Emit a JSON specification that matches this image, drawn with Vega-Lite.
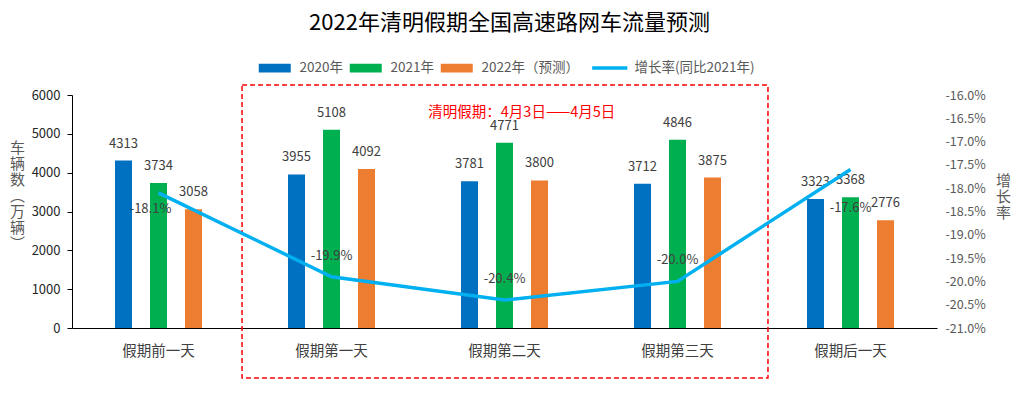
{
  "$schema": "https://vega.github.io/schema/vega-lite/v6.json",
  "width": 865,
  "height": 233,
  "autosize": "none",
  "padding": {"left": 72, "top": 95, "right": 83, "bottom": 74},
  "title": {"text": "2022年清明假期全国高速路网车流量预测", "fontSize": 22, "fontWeight": "normal", "color": "#000000", "font": "Noto Sans CJK SC", "anchor": "middle", "dx": 5, "dy": -22},
  "config": {"view": {"stroke": null}, "font": "Noto Sans CJK SC", "axis": {"labelOverlap": false}},
  "datasets": {
    "bars": [
      {"cat": "假期前一天", "series": "2020年", "value": 4313},
      {"cat": "假期前一天", "series": "2021年", "value": 3734},
      {"cat": "假期前一天", "series": "2022年（预测）", "value": 3058},
      {"cat": "假期第一天", "series": "2020年", "value": 3955},
      {"cat": "假期第一天", "series": "2021年", "value": 5108},
      {"cat": "假期第一天", "series": "2022年（预测）", "value": 4092},
      {"cat": "假期第二天", "series": "2020年", "value": 3781},
      {"cat": "假期第二天", "series": "2021年", "value": 4771},
      {"cat": "假期第二天", "series": "2022年（预测）", "value": 3800},
      {"cat": "假期第三天", "series": "2020年", "value": 3712},
      {"cat": "假期第三天", "series": "2021年", "value": 4846},
      {"cat": "假期第三天", "series": "2022年（预测）", "value": 3875},
      {"cat": "假期后一天", "series": "2020年", "value": 3323},
      {"cat": "假期后一天", "series": "2021年", "value": 3368},
      {"cat": "假期后一天", "series": "2022年（预测）", "value": 2776}
    ],
    "rates": [
      {"cat": "假期前一天", "rate": -18.1},
      {"cat": "假期第一天", "rate": -19.9},
      {"cat": "假期第二天", "rate": -20.4},
      {"cat": "假期第三天", "rate": -20.0},
      {"cat": "假期后一天", "rate": -17.6}
    ],
    "box": [{"x1": "假期第一天", "x2": "假期第三天", "top": 6258, "bottom": -1288}],
    "note": [{"cat": "假期第二天", "y": 5536, "label": "清明假期：4月3日——4月5日"}]
  },
  "layer": [
    {
      "layer": [
        {
          "data": {"name": "bars"},
          "mark": {"type": "bar"},
          "encoding": {
            "x": {
              "field": "cat", "type": "nominal", "title": null,
              "sort": ["假期前一天", "假期第一天", "假期第二天", "假期第三天", "假期后一天"],
              "scale": {"domain": ["假期前一天", "假期第一天", "假期第二天", "假期第三天", "假期后一天"], "paddingInner": 0, "paddingOuter": 0},
              "axis": {"labelAngle": 0, "labelAlign": "center", "bandPosition": 0.5, "ticks": false, "domainColor": "#000000", "labelFontSize": 14.5, "labelColor": "#404040", "labelPadding": 16, "labelFont": "Noto Sans CJK SC"}
            },
            "xOffset": {
              "field": "series", "type": "nominal",
              "sort": ["2020年", "2021年", "2022年（预测）"],
              "scale": {"domain": ["2020年", "2021年", "2022年（预测）"], "range": [25.5, 147.5], "paddingInner": 0.514, "paddingOuter": 0.5}
            },
            "y": {
              "field": "value", "type": "quantitative",
              "scale": {"domain": [0, 6000], "nice": false},
              "axis": {
                "values": [0, 1000, 2000, 3000, 4000, 5000, 6000], "tickCount": 7, "format": "d", "labelOverlap": false,
                "grid": false, "domain": true, "domainColor": "#000000", "ticks": true, "tickSize": 5, "tickColor": "#000000",
                "labelFontSize": 13, "labelColor": "#262626", "labelPadding": 7,
                "title": ["车", "辆", "数", "︵", "万", "辆", "︶"],
                "titleAngle": 0, "titleX": -55, "titleY": 52, "titleAlign": "center", "titleBaseline": "middle",
                "titleFontSize": 15, "titleLineHeight": 16, "titleFontWeight": "normal", "titleColor": "#595959"
              }
            },
            "color": {
              "field": "series", "type": "nominal",
              "scale": {"domain": ["2020年", "2021年", "2022年（预测）", "增长率(同比2021年)"], "range": ["#0070C0", "#00B050", "#ED7D31", "#00B0F0"]},
              "legend": {
                "orient": "none", "legendX": 196, "legendY": -34, "direction": "horizontal", "title": null,
                "symbolSize": 1024, "labelFontSize": 13.5, "labelColor": "#595959", "labelOffset": 18, "columnPadding": 6, "padding": 0,
                "encode": {
                  "symbols": {
                    "update": {
                      "shape": {"signal": "datum.value === '增长率(同比2021年)' ? 'M-1.1,0H1.1' : 'M-1,-0.28H1V0.28H-1Z'"},
                      "fill": {"signal": "datum.value === '增长率(同比2021年)' ? 'transparent' : scale('color', datum.value)"},
                      "stroke": {"signal": "scale('color', datum.value)"},
                      "strokeWidth": {"signal": "datum.value === '增长率(同比2021年)' ? 3.5 : 0"},
                      "opacity": {"value": 1},
                      "fillOpacity": {"value": 1},
                      "strokeOpacity": {"value": 1}
                    }
                  }
                }
              }
            }
          }
        },
        {
          "data": {"name": "box"},
          "mark": {"type": "rect", "filled": false, "stroke": "#FF0000", "strokeDash": [5, 3], "strokeWidth": 1.5},
          "encoding": {
            "x": {"field": "x1", "type": "nominal", "bandPosition": -0.017},
            "x2": {"field": "x2", "bandPosition": 1.023},
            "y": {"field": "top", "type": "quantitative", "scale": {"domain": [0, 6000], "nice": false}},
            "y2": {"field": "bottom"}
          }
        },
        {
          "data": {"name": "bars"},
          "mark": {"type": "text", "fontSize": 13, "color": "#404040", "baseline": "alphabetic", "dy": -13},
          "encoding": {
            "x": {"field": "cat", "type": "nominal", "sort": ["假期前一天", "假期第一天", "假期第二天", "假期第三天", "假期后一天"]},
            "xOffset": {"field": "series", "type": "nominal", "sort": ["2020年", "2021年", "2022年（预测）"]},
            "y": {"field": "value", "type": "quantitative", "scale": {"domain": [0, 6000], "nice": false}},
            "text": {"field": "value", "type": "quantitative", "format": "d"}
          }
        },
        {
          "data": {"name": "note"},
          "mark": {"type": "text", "fontSize": 14.5, "color": "#FF0000", "baseline": "middle", "align": "center"},
          "encoding": {
            "x": {"field": "cat", "type": "nominal", "bandPosition": 0.6},
            "y": {"field": "y", "type": "quantitative", "scale": {"domain": [0, 6000], "nice": false}},
            "text": {"field": "label"}
          }
        }
      ]
    },
    {
      "data": {"name": "rates"},
      "transform": [{"calculate": "replace(format(datum.rate, '.1f'), '\u2212', '-') + '%'", "as": "lbl"}],
      "layer": [
        {
          "mark": {"type": "line", "strokeWidth": 3.5},
          "encoding": {
            "x": {"field": "cat", "type": "nominal", "sort": ["假期前一天", "假期第一天", "假期第二天", "假期第三天", "假期后一天"]},
            "y": {
              "field": "rate", "type": "quantitative",
              "scale": {"domain": [-21, -16], "nice": false, "zero": false},
              "axis": {
                "orient": "right",
                "values": [-21, -20.5, -20, -19.5, -19, -18.5, -18, -17.5, -17, -16.5, -16], "tickCount": 11,
                "labelExpr": "replace(format(datum.value, '.1f'), '\u2212', '-') + '%'", "labelOverlap": false,
                "grid": false, "domain": false, "ticks": false,
                "labelFontSize": 12.5, "labelColor": "#595959", "labelPadding": 8,
                "title": ["增", "长", "率"],
                "titleAngle": 0, "titleX": 66, "titleY": 85, "titleAlign": "center", "titleBaseline": "middle",
                "titleFontSize": 15, "titleLineHeight": 16, "titleFontWeight": "normal", "titleColor": "#595959"
              }
            },
            "color": {"datum": "增长率(同比2021年)"}
          }
        },
        {
          "transform": [{"filter": "datum.cat !== '假期前一天' && datum.cat !== '假期后一天'"}],
          "mark": {"type": "text", "fontSize": 13, "color": "#404040", "baseline": "middle", "dy": -21},
          "encoding": {
            "x": {"field": "cat", "type": "nominal"},
            "y": {"field": "rate", "type": "quantitative"},
            "text": {"field": "lbl"}
          }
        },
        {
          "transform": [{"filter": "datum.cat === '假期前一天'"}],
          "mark": {"type": "text", "fontSize": 13, "color": "#404040", "baseline": "middle", "dy": 16, "dx": -8},
          "encoding": {
            "x": {"field": "cat", "type": "nominal"},
            "y": {"field": "rate", "type": "quantitative"},
            "text": {"field": "lbl"}
          }
        },
        {
          "transform": [{"filter": "datum.cat === '假期后一天'"}],
          "mark": {"type": "text", "fontSize": 13, "color": "#404040", "baseline": "middle", "dy": 38},
          "encoding": {
            "x": {"field": "cat", "type": "nominal"},
            "y": {"field": "rate", "type": "quantitative"},
            "text": {"field": "lbl"}
          }
        }
      ]
    }
  ],
  "resolve": {"scale": {"y": "independent"}}
}
